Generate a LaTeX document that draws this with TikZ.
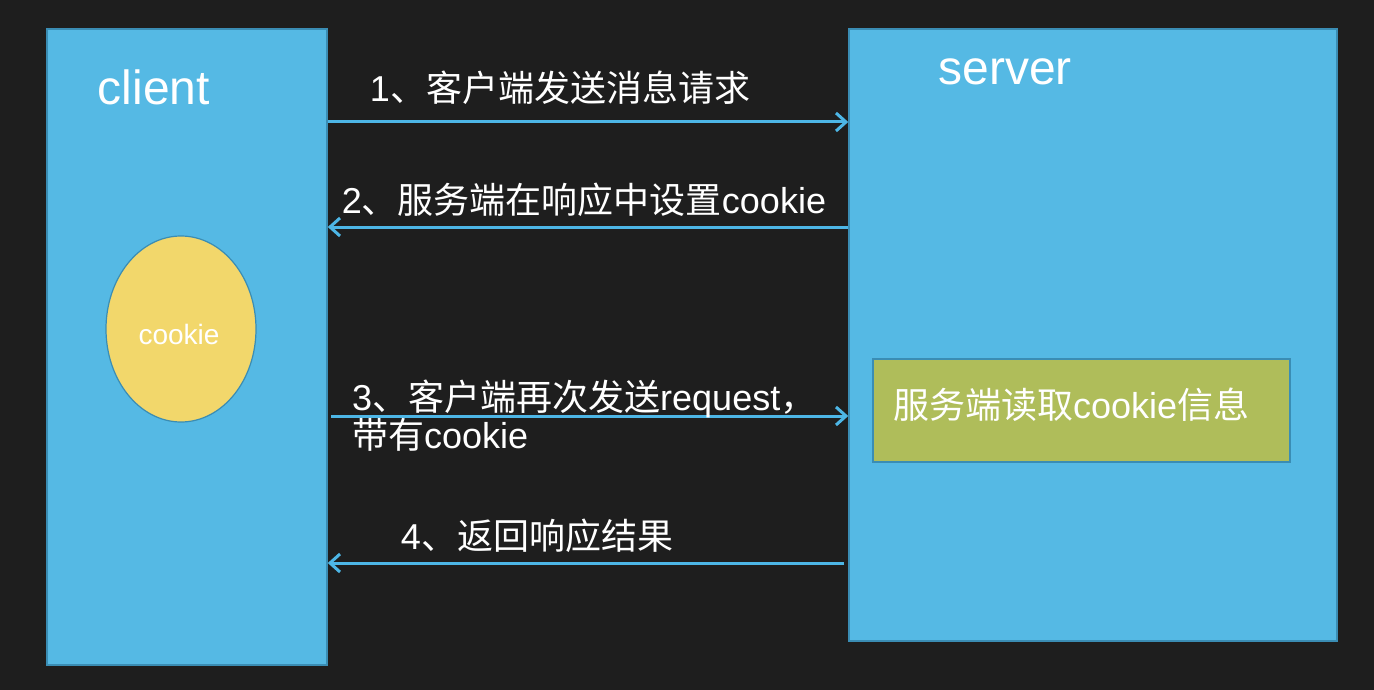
\documentclass[tikz,border=0pt]{standalone}
\usepackage{fontspec}
\setmainfont{Liberation Sans}
\newfontfamily\cjk{Noto Sans CJK SC}
\usetikzlibrary{positioning, arrows.meta, shapes.geometric}
\definecolor{BoardBlack}{HTML}{1E1E1E}
\definecolor{SkyBlue}{HTML}{55B9E4}
\definecolor{EdgeBlue}{HTML}{3A8DB4}
\definecolor{ArrowBlue}{HTML}{4DB6E6}
\definecolor{CookieYellow}{HTML}{F2D76B}
\definecolor{OliveGreen}{HTML}{AFBD5A}

\begin{document}
\begin{tikzpicture}[x=1pt, y=-1pt,
  box/.style={draw=EdgeBlue, line width=1.5pt, fill=SkyBlue, inner sep=0pt},
  ttl/.style={font=\fontsize{48}{56}\selectfont, text=white, inner sep=0pt},
  lbl/.style={font=\fontsize{36}{38}\selectfont, text=white, inner sep=0pt},
  arr/.style={draw=ArrowBlue, line width=3pt, -{Straight Barb[length=10pt, width=18pt]}},
]
  % Board
  \fill[BoardBlack] (0,0) rectangle (1374,690);
  \useasboundingbox (0,0) rectangle (1374,690);

  % Client side
  \node[box, minimum width=280pt, minimum height=636pt] (client) at (187,347) {};
  \node[ttl] (cname) at (154,87) {client};
  \node[ellipse, draw=EdgeBlue, line width=1.2pt, fill=CookieYellow, minimum width=150pt, minimum height=186pt] (cookie) at (181,329) {};
  \node[font=\fontsize{28}{32}\selectfont, text=white, inner sep=0pt] (cookietxt) at (179,334) {cookie};

  % Server side
  \node[box, minimum width=488pt, minimum height=612pt] (server) at (1093,335) {};
  \node[ttl] (sname) at (1005,72) {server};
  \node[box, fill=OliveGreen, minimum width=417pt, minimum height=103pt] (read) at (1081.5,410.5) {};
  \node[lbl, anchor=west] (readtxt) at (893,405) {{\cjk 服务端读取}cookie{\cjk 信息}};

  % Messages
  \draw[arr] (client.east |- 0,122) -- (server.west |- 0,122);
  \node[lbl] (m1) at (560,88) {1{\cjk 、客户端发送消息请求}};
  \draw[arr] (server.west |- 0,227) -- (client.east |- 0,227);
  \node[lbl] (m2) at (584,200) {2{\cjk 、服务端在响应中设置}cookie};
  \draw[arr] ([xshift=3pt]client.east |- 0,416) -- (server.west |- 0,416);
  \node[lbl, anchor=north west, align=left] (m3) at (352,380)
    {3{\cjk 、客户端再次发送}request{\cjk ，}\\{\cjk 带有}cookie};
  \draw[arr] ([xshift=-4pt]server.west |- 0,563) -- (client.east |- 0,563);
  \node[lbl] (m4) at (537,536) {4{\cjk 、返回响应结果}};
\end{tikzpicture}
\end{document}
